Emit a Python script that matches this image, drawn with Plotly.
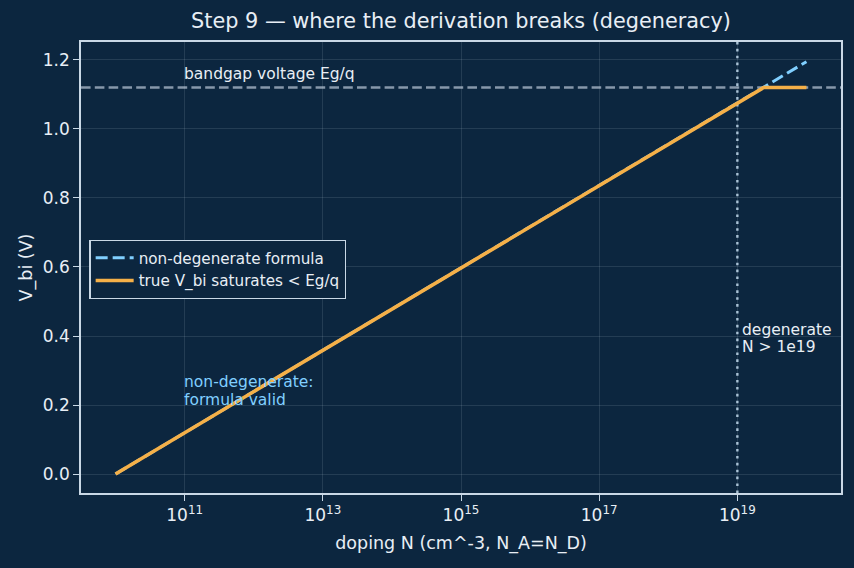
import plotly.graph_objects as go

# data
N_formula = [1e10, 1e20]
V_formula = [0.0, 1.195]
N_true = [1e10, 2.4e19, 1e20]
V_true = [0.0, 1.12, 1.12]
Eg_q = 1.12
N_degenerate = 1e19
x_tick_vals = [1e11, 1e13, 1e15, 1e17, 1e19]
x_tick_text = ["10<sup>11</sup>", "10<sup>13</sup>", "10<sup>15</sup>", "10<sup>17</sup>", "10<sup>19</sup>"]
y_tick_vals = [0.0, 0.2, 0.4, 0.6, 0.8, 1.0, 1.2]

BG = "#0c263f"
FG = "#e8eef5"
SPINE = "#c9d8e6"
GRID = "rgba(200,215,230,0.13)"
FONT = "DejaVu Sans"

fig = go.Figure()
fig.add_trace(go.Scatter(x=N_formula, y=V_formula, mode="lines", name="non-degenerate formula",
                         line=dict(color="#80cfff", width=3.0, dash="12px,5px")))
fig.add_trace(go.Scatter(x=N_true, y=V_true, mode="lines", name="true V_bi saturates < Eg/q",
                         line=dict(color="#f5b048", width=3.6)))

fig.add_shape(type="line", xref="paper", x0=0, x1=1, yref="y", y0=Eg_q, y1=Eg_q,
              line=dict(color="#8798ab", width=2.4, dash="9.6px,4.2px"), layer="below")
fig.add_shape(type="line", xref="x", x0=N_degenerate, x1=N_degenerate, yref="paper", y0=0, y1=1,
              line=dict(color="#a6bfd3", width=2.4, dash="2.6px,4.3px"), layer="below")

ann_font = dict(family=FONT, size=15.5, color=FG)
blue_font = dict(family=FONT, size=15.5, color="#80cfff")
for txt, xv, yv, f in [("bandgap voltage Eg/q", 11, 1.159, ann_font),
                       ("degenerate", 19.08, 0.417, ann_font),
                       ("N > 1e19", 19.08, 0.368, ann_font),
                       ("non-degenerate:", 11, 0.267, blue_font),
                       ("formula valid", 11, 0.214, blue_font)]:
    fig.add_annotation(x=xv, y=yv, xref="x", yref="y", text=txt, showarrow=False,
                       xanchor="left", yanchor="middle", xshift=-3, font=f)

fig.update_layout(
    width=854, height=568,
    paper_bgcolor=BG, plot_bgcolor=BG,
    margin=dict(l=81, r=11, t=42, b=75),
    font=dict(family=FONT, size=17, color=FG),
    title=dict(text="Step 9 — where the derivation breaks (degeneracy)", xref="paper", x=0.5, xanchor="center",
               y=0.963, yanchor="middle", font=dict(family=FONT, size=20.8, color=FG)),
    showlegend=True,
    legend=dict(x=0.011, y=0.561, xanchor="left", yanchor="top", bgcolor=BG,
                bordercolor=SPINE, borderwidth=1.3, font=dict(family=FONT, size=15.2, color=FG),
                tracegroupgap=0, itemwidth=38),
)
fig.update_xaxes(type="log", range=[9.5, 20.5], tickvals=x_tick_vals, ticktext=x_tick_text,
                 showline=True, linecolor=SPINE, linewidth=1.6, mirror=True,
                 ticks="outside", ticklen=6, tickwidth=1.4, tickcolor=SPINE, showgrid=True, gridcolor=GRID,
                 zeroline=False, tickfont=dict(family=FONT, size=17, color=FG),
                 title=dict(text="doping N (cm^-3, N_A=N_D)", font=dict(family=FONT, size=17.5, color=FG), standoff=13))
fig.update_yaxes(range=[-0.055, 1.252], tickvals=y_tick_vals, tickformat=".1f",
                 showline=True, linecolor=SPINE, linewidth=1.6, mirror=True,
                 ticks="outside", ticklen=6, tickwidth=1.4, tickcolor=SPINE, showgrid=True, gridcolor=GRID,
                 zeroline=False, tickfont=dict(family=FONT, size=17, color=FG),
                 title=dict(text="V_bi (V)", font=dict(family=FONT, size=17.5, color=FG), standoff=6))

fig.write_html("out.html")
